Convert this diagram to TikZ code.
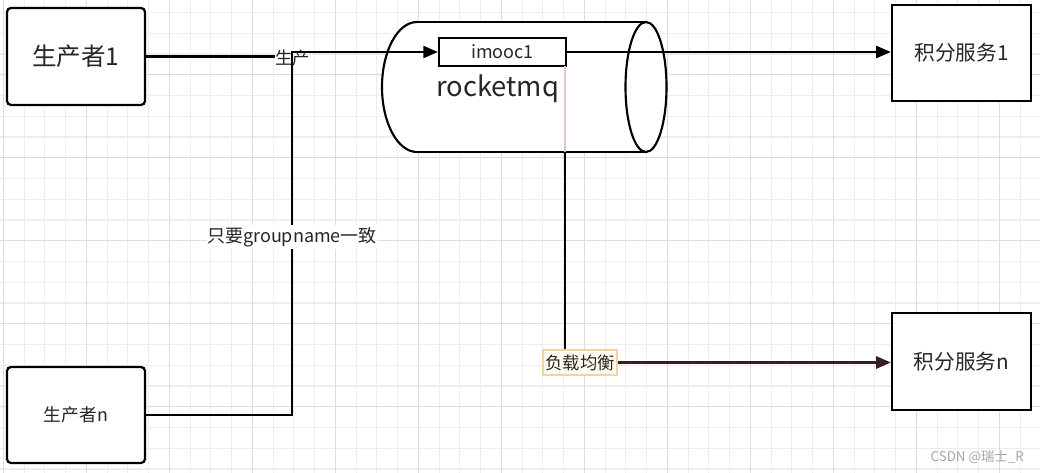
\documentclass[tikz,border=0pt]{standalone}
\usepackage{fontspec}
\setmainfont{Noto Sans CJK SC}
\usetikzlibrary{arrows.meta}
\definecolor{gridminor}{HTML}{EDEDED}
\definecolor{gridmajor}{HTML}{DCDCDC}
\definecolor{darkmaroon}{HTML}{3A1C24}
\definecolor{pinkl}{HTML}{E6C3CB}
\definecolor{lbfill}{HTML}{FFFBF0}
\definecolor{lbdraw}{HTML}{F0D4A8}
\definecolor{txt}{HTML}{262626}
\begin{document}
\begin{tikzpicture}[x=0.75pt,y=-0.75pt,
  box/.style={draw=black,line width=1.7pt,fill=white,inner sep=0pt,text=txt},
  rbox/.style={box,rounded corners=3pt},
  conn/.style={line width=1.7pt,draw=black},
  tip/.style={-{Triangle[length=11pt,width=9pt]}},
  lab/.style={inner sep=0pt,text=txt},
  fs/.style={font=\fontsize{#1}{#1}\selectfont}
]
\useasboundingbox (0,0) rectangle (1040,473);
\fill[white] (0,0) rectangle (1040,473);
\begin{scope}
\clip (0,0) rectangle (1040,473);
\foreach \i in {0,...,50} {\draw[gridminor,line width=0.8pt] ({3.3+20.75*\i},0) -- ({3.3+20.75*\i},473);}
\foreach \j in {0,...,22} {\draw[gridminor,line width=0.8pt] (0,{12.5+20.75*\j}) -- (1040,{12.5+20.75*\j});}
\foreach \i in {0,...,12} {\draw[gridmajor,line width=0.9pt] ({3.3+83*\i},0) -- ({3.3+83*\i},473);}
\foreach \j in {0,...,4} {\draw[gridmajor,line width=0.9pt] (0,{74.7+83*\j}) -- (1040,{74.7+83*\j});}
\end{scope}

% cylinder
\fill[white] (417,22) -- (646,22) -- (646,152) -- (417,152)
  arc[start angle=90, end angle=270, x radius=35, y radius=65] -- cycle;
\draw[line width=1.6pt] (417,22) arc[start angle=-90, end angle=-270, x radius=35, y radius=65];
\draw[line width=1.6pt,fill=white] (646,87) ellipse[x radius=20.5, y radius=65];
\draw[line width=1.6pt] (417,22) -- (646,22);
\draw[line width=1.6pt] (417,152) -- (646,152);

% nodes
\node[rbox,fs=18.4pt,minimum width=103.5pt,minimum height=72.75pt] (p1) at (76,56.5) {生产者1};
\node[rbox,fs=13.3pt,minimum width=103.5pt,minimum height=72pt] (pn) at (76,415) {生产者n};
\node[box,fs=15.5pt,minimum width=104.25pt,minimum height=72pt] (s1) at (961.5,53) {积分服务1};
\node[box,fs=15.5pt,minimum width=104.25pt,minimum height=72.75pt] (sn) at (961.5,361.5) {积分服务n};
\node[box,line width=1.6pt,fs=13.5pt,minimum width=95.25pt,minimum height=21pt] (imooc) at (502.5,52) {imooc1};
\node[lab,fs=20.5pt,anchor=base west] (rmq) at (436,97) {rocketmq};
\node[lab,fs=13pt] (lp) at (292.5,58) {生产};
\node[draw=lbdraw,fill=lbfill,line width=0.8pt,inner sep=1pt,text=txt,fs=13pt,minimum width=55.5pt,minimum height=18.75pt] (lb) at (580,362.5) {负载均衡};

\coordinate (j) at (292,52);
\coordinate (v1) at (565,66);
\coordinate (cb) at (565,152);

% connectors
\draw[conn] (p1.east) -- (p1.east -| lp.west);
\draw[conn,tip] (pn.east) -- (pn.east -| j) -- (j) -- (imooc.west);
\node[lab,fill=white,inner ysep=2pt,fs=13.5pt] (g) at (292,237) {只要groupname一致};
\draw[conn,tip] (imooc.east) -- (imooc.east -| s1.west);
\draw[pinkl,line width=1pt] (v1) -- (cb);
\draw[conn] (cb) -- (cb |- lb.north);
\draw[conn,draw=darkmaroon,line width=2pt,tip] (lb.east) -- (lb.east -| sn.west);

\node[lab,text=black!35,fs=10pt,anchor=east] (wm) at (1024,457) {CSDN @瑞士\_R};
\end{tikzpicture}
\end{document}
